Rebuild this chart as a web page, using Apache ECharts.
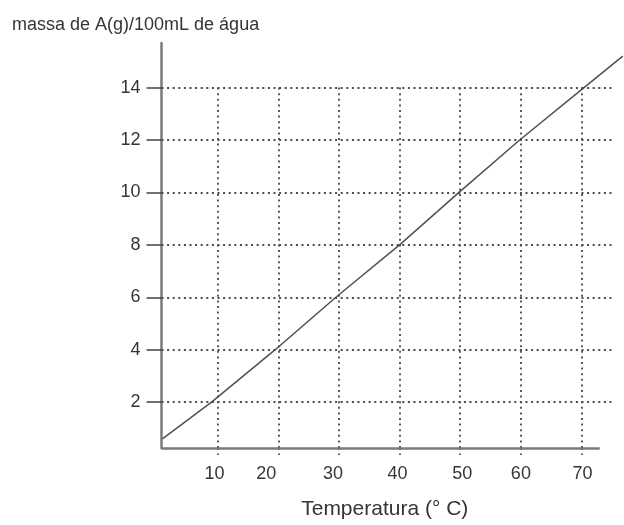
<!DOCTYPE html>
<html><head><meta charset="utf-8">
<script src="https://cdn.jsdelivr.net/npm/echarts@6/dist/echarts.min.js"></script>
<style>html,body{margin:0;padding:0;background:#fff}#c{width:624px;height:525px}</style>
</head><body><div id="c"></div>
<script>
// ---- data ----
const xTicks = [10, 20, 30, 40, 50, 60, 70];
const yTicks = [2, 4, 6, 8, 10, 12, 14];
const lineX = [0.9, 9, 19.5, 29.5, 40, 49.8, 59.8, 70.4, 76.8];
const lineY = [0.6, 2, 4, 6, 8, 10, 12, 14, 15.2];
const xRange = [0.75, 77];
const yRange = [0.25, 15.7];
const xAxisEnd = 73;
const hGridEnd = 75;
const vGridTop = 14;
const yAxisTitle = 'massa de A(g)/100mL de água';
const xAxisTitle = 'Temperatura (° C)';

// ---- styling ----
const FONT = "'Liberation Sans', Arial, sans-serif";
const TXT = '#353535';
const dotStyle = { color: '#4a4a4a', width: 1.8, type: [2, 3.6] };
const axisStyle = { color: '#7a7a7a', width: 2.5, type: 'solid' };
const xLabelShift = { 10: -3, 20: -12, 30: -6, 40: -2, 50: 2, 60: 0, 70: 1 };
const rich = {};
xTicks.forEach(v => {
  const s = xLabelShift[v] || 0;
  rich['s' + v] = {
    fontSize: 18, color: TXT, fontFamily: FONT,
    padding: s < 0 ? [0, -2 * s, 0, 0] : [0, 0, 0, 2 * s]
  };
});

const markData = [];
yTicks.forEach(v => markData.push([
  { coord: [xRange[0], v], lineStyle: dotStyle },
  { coord: [hGridEnd, v], lineStyle: dotStyle }
]));
xTicks.forEach(v => markData.push([
  { coord: [v, yRange[0]], lineStyle: dotStyle },
  { coord: [v, vGridTop], lineStyle: dotStyle }
]));
markData.push([
  { coord: [xRange[0], yRange[0]], lineStyle: axisStyle },
  { coord: [xAxisEnd, yRange[0]], lineStyle: axisStyle }
]);

const chart = echarts.init(document.getElementById('c'), null, { renderer: 'canvas' });
chart.setOption({
  animation: false,
  backgroundColor: '#fff',
  title: {
    text: yAxisTitle, left: 12, top: 16, padding: 0,
    textStyle: { fontSize: 18, fontWeight: 'normal', color: TXT, fontFamily: FONT }
  },
  grid: { left: 161.5, right: 0, top: 43, bottom: 77, containLabel: false, outerBoundsMode: 'none' },
  xAxis: {
    type: 'value', min: xRange[0], max: xRange[1],
    axisLine: { show: false },
    axisTick: { show: true, customValues: xTicks, length: 7, lineStyle: dotStyle },
    axisLabel: {
      customValues: xTicks, margin: 17, fontSize: 18, color: TXT, fontFamily: FONT,
      formatter: v => '{s' + v + '|' + v + '}', rich: rich
    },
    splitLine: { show: false },
    name: xAxisTitle, nameLocation: 'middle', nameGap: 51,
    nameTextStyle: { fontSize: 21, color: TXT, fontFamily: FONT, padding: [0, 16, 0, 0] }
  },
  yAxis: {
    type: 'value', min: yRange[0], max: yRange[1],
    axisLine: { show: true, lineStyle: axisStyle },
    axisTick: { show: true, customValues: yTicks, length: 15, lineStyle: { color: '#444', width: 1.5 } },
    axisLabel: { customValues: yTicks, margin: 21, fontSize: 18, color: TXT, fontFamily: FONT },
    splitLine: { show: false }
  },
  series: [{
    type: 'line',
    data: lineX.map((x, i) => [x, lineY[i]]),
    showSymbol: false,
    lineStyle: { color: '#505050', width: 1.5 },
    silent: true,
    markLine: {
      silent: true, symbol: ['none', 'none'], label: { show: false },
      emphasis: { disabled: true }, animation: false,
      data: markData
    }
  }]
});
</script></body></html>
